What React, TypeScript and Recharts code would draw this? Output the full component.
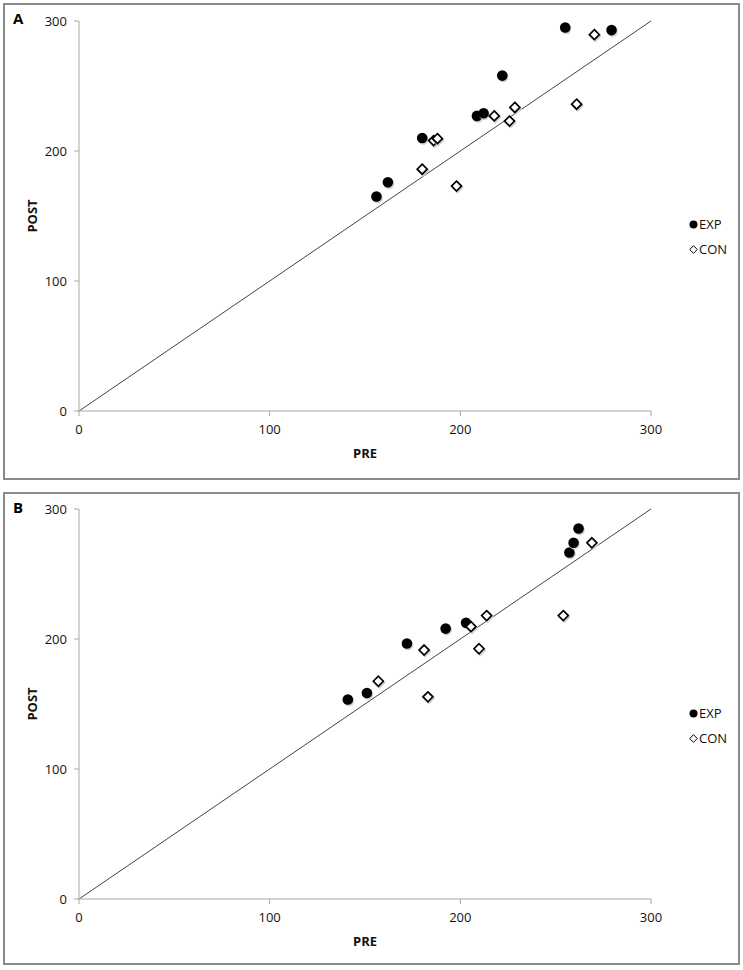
import React from 'react';
import { ScatterChart, Scatter, XAxis, YAxis, ReferenceLine, Legend, Label } from 'recharts';

const axisTicks = [0, 100, 200, 300];
const seriesNames = ['EXP', 'CON'];
const panelLetters = ['A', 'B'];

// Panel A
const aExpPre = [156, 162, 180, 208.7, 212.2, 222, 255, 279.3];
const aExpPost = [165, 176, 210, 227, 229, 258, 295, 293];
const aConPre = [180, 186, 188, 198, 217.8, 225.8, 228.6, 261, 270.3];
const aConPost = [186, 208, 209.5, 173, 227, 223, 233.5, 236, 289.5];

// Panel B
const bExpPre = [141, 151, 172, 192.3, 203, 257.2, 259.4, 262];
const bExpPost = [153.5, 158.5, 196.5, 208, 212.5, 266.5, 274, 285];
const bConPre = [157, 181, 183, 205.6, 209.8, 213.8, 254, 269];
const bConPost = [167.5, 191.5, 155.5, 209.5, 192.5, 218, 218, 274];

const zip = (xs: number[], ys: number[]) => xs.map((x, i) => ({ pre: x, post: ys[i] }));

const FONT = '"Open Sans", Arial, sans-serif';
const AXIS_GRAY = '#a6a6a6';

const DotShape = (props: any) => {
  const { cx, cy } = props;
  return (
    <g>
      <circle cx={cx + 1} cy={cy + 1.5} r={5.3} fill="#cfcfcf" />
      <circle cx={cx} cy={cy} r={5.3} fill="#000" />
    </g>
  );
};

const DiamondShape = (props: any) => {
  const { cx, cy } = props;
  const d = 5;
  const pts = (ox: number, oy: number) =>
    `${cx + ox},${cy + oy - d} ${cx + ox + d},${cy + oy} ${cx + ox},${cy + oy + d} ${cx + ox - d},${cy + oy}`;
  return (
    <g>
      <polygon points={pts(1, 1.5)} fill="none" stroke="#d0d0d0" strokeWidth={1.8} />
      <polygon points={pts(0, 0)} fill="#fff" stroke="#000" strokeWidth={1.7} />
    </g>
  );
};

const LegendContent = () => (
  <div style={{ fontFamily: FONT, fontSize: 13, color: '#111', lineHeight: '25px' }}>
    <div style={{ display: 'flex', alignItems: 'center' }}>
      <svg width={9} height={9} style={{ marginRight: 1 }}>
        <circle cx={4.5} cy={4.5} r={4} fill="#000" />
      </svg>
      <span>{seriesNames[0]}</span>
    </div>
    <div style={{ display: 'flex', alignItems: 'center' }}>
      <svg width={9} height={9} style={{ marginRight: 1 }}>
        <polygon points="4.5,0.7 8.3,4.5 4.5,8.3 0.7,4.5" fill="#fff" stroke="#000" strokeWidth={1} />
      </svg>
      <span>{seriesNames[1]}</span>
    </div>
  </div>
);

type PanelProps = {
  letter: string;
  top: number;
  height: number;
  plotTop: number;
  plotBottomMargin: number;
  exp: { pre: number; post: number }[];
  con: { pre: number; post: number }[];
};

const Panel = ({ letter, top, height, plotTop, plotBottomMargin, exp, con }: PanelProps) => {
  const innerW = 733;
  const innerH = height - 4;
  return (
    <div
      style={{
        position: 'absolute',
        left: 3,
        top,
        width: innerW,
        height: innerH,
        border: '2px solid #8a8a8a',
        background: '#fff',
      }}
    >
      <div
        style={{
          position: 'absolute',
          left: 8,
          top: 3,
          fontFamily: FONT,
          fontWeight: 700,
          fontSize: 15,
          color: '#000',
        }}
      >
        {letter}
      </div>
      <ScatterChart
        width={innerW}
        height={innerH}
        margin={{ top: plotTop, right: 87, bottom: plotBottomMargin - 30, left: 34 }}
      >
        <XAxis
          type="number"
          dataKey="pre"
          domain={[0, 300]}
          ticks={axisTicks}
          height={30}
          stroke={AXIS_GRAY}
          tickSize={5}
          tickMargin={9}
          tick={{ fill: '#111', fontSize: 13, fontFamily: FONT }}
          allowDataOverflow
        >
          <Label
            content={(p: any) => {
              const vb = p.viewBox || {};
              return (
                <text
                  x={vb.x + vb.width / 2}
                  y={vb.y + 42}
                  textAnchor="middle"
                  dominantBaseline="central"
                  fontFamily={FONT}
                  fontWeight={700}
                  fontSize={13}
                  fill="#111"
                >
                  PRE
                </text>
              );
            }}
          />
        </XAxis>
        <YAxis
          type="number"
          dataKey="post"
          domain={[0, 300]}
          ticks={axisTicks}
          width={40}
          stroke={AXIS_GRAY}
          tickSize={5}
          tickMargin={7}
          tick={{ fill: '#111', fontSize: 13, fontFamily: FONT }}
          allowDataOverflow
        >
          <Label
            content={(p: any) => {
              const vb = p.viewBox || {};
              const cx = vb.x - 7;
              const cy = vb.y + vb.height / 2;
              return (
                <text
                  x={cx}
                  y={cy}
                  transform={`rotate(-90, ${cx}, ${cy})`}
                  textAnchor="middle"
                  dominantBaseline="central"
                  fontFamily={FONT}
                  fontWeight={700}
                  fontSize={13}
                  fill="#111"
                >
                  POST
                </text>
              );
            }}
          />
        </YAxis>
        <ReferenceLine
          segment={[
            { x: 0, y: 0 },
            { x: 300, y: 300 },
          ]}
          stroke="#444"
          strokeWidth={1}
          ifOverflow="visible"
        />
        <Scatter name={seriesNames[0]} data={exp} shape={DotShape} isAnimationActive={false} />
        <Scatter name={seriesNames[1]} data={con} shape={DiamondShape} isAnimationActive={false} />
        <Legend
          layout="vertical"
          align="center"
          verticalAlign="middle"
          content={LegendContent}
          wrapperStyle={{ left: 684, top: 207, width: 50 }}
        />
      </ScatterChart>
    </div>
  );
};

export default function App() {
  return (
    <div style={{ position: 'absolute', left: 0, top: 0, width: 743, height: 970, background: '#fff' }}>
      <Panel
        letter={panelLetters[0]}
        top={3}
        height={477}
        plotTop={16}
        plotBottomMargin={67}
        exp={zip(aExpPre, aExpPost)}
        con={zip(aConPre, aConPost)}
      />
      <Panel
        letter={panelLetters[1]}
        top={492}
        height={473}
        plotTop={15}
        plotBottomMargin={64}
        exp={zip(bExpPre, bExpPost)}
        con={zip(bConPre, bConPost)}
      />
    </div>
  );
}
